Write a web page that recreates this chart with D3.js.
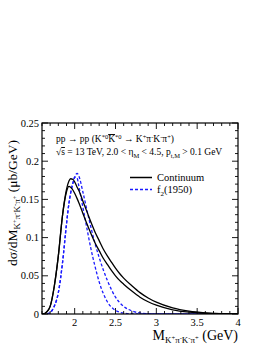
<!DOCTYPE html>
<html><head><meta charset="utf-8">
<script src="https://cdn.jsdelivr.net/npm/d3@7"></script>
<style>
html,body{margin:0;padding:0;background:#fff;}
svg{display:block;font-family:"Liberation Serif","DejaVu Serif",serif;}
</style></head>
<body>
<svg id="c" width="271" height="351"></svg>
<script>
// mass grid (GeV)
const mass = [1.60,1.62,1.65,1.70,1.75,1.80,1.85,1.90,1.93,1.95,1.98,2.00,2.03,2.05,2.10,2.15,2.20,2.25,2.30,2.35,2.40,2.45,2.50,2.55,2.60,2.70,2.80,2.90,3.00,3.20,3.40,3.60,3.80,4.00];
// Continuum (two variants), ub/GeV
const contA = [0,0,0.002,0.010,0.036,0.076,0.128,0.163,0.174,0.177,0.176,0.173,0.166,0.162,0.148,0.134,0.120,0.107,0.096,0.085,0.076,0.068,0.060,0.053,0.047,0.037,0.028,0.021,0.0155,0.0080,0.0038,0.0016,0.0006,0.0002];
const contB = [0,0,0.002,0.010,0.036,0.076,0.128,0.160,0.167,0.166,0.162,0.158,0.151,0.146,0.132,0.118,0.105,0.093,0.083,0.073,0.065,0.057,0.050,0.044,0.039,0.030,0.022,0.016,0.0115,0.0055,0.0025,0.0010,0.0004,0.0001];
// f2(1950) (two variants)
const f2C = [0,0,0,0.002,0.010,0.028,0.066,0.118,0.145,0.158,0.172,0.179,0.178,0.168,0.140,0.112,0.085,0.062,0.042,0.027,0.016,0.009,0.0048,0.0024,0.0012,0.0003,0,0,0,0,0,0,0,0];
const f2D = [0,0,0,0.002,0.010,0.028,0.066,0.118,0.145,0.158,0.172,0.179,0.184,0.181,0.160,0.136,0.113,0.092,0.074,0.058,0.044,0.032,0.022,0.015,0.010,0.004,0.0014,0.0004,0.0001,0,0,0,0,0];
const xTicks = [2,2.5,3,3.5,4];
const yTicks = [0,0.05,0.1,0.15,0.2,0.25];
const xTickLabels = ["2","2.5","3","3.5","4"];
const yTickLabels = ["0","0.05","0.1","0.15","0.2","0.25"];

const svg = d3.select("#c");
const L=42,R=238,T=123,B=314;
const x = d3.scaleLinear().domain([1.6,4]).range([L,R]);
const y = d3.scaleLinear().domain([0,0.25]).range([B,T]);

svg.append("clipPath").attr("id","pc").append("rect")
  .attr("x",L).attr("y",T-2).attr("width",R-L).attr("height",B-T+2);

const line = vals => d3.line().x((d,i)=>x(mass[i])).y(d=>y(d)).curve(d3.curveMonotoneX)(vals);
const g = svg.append("g").attr("clip-path","url(#pc)");
[[f2C,"#1a1aff","3,2"],[f2D,"#1a1aff","3,2"],[contB,"#000",null],[contA,"#000",null]].forEach(([v,c,da])=>{
  const p = g.append("path").attr("d",line(v)).attr("fill","none").attr("stroke",c).attr("stroke-width",1.3);
  if(da) p.attr("stroke-dasharray",da);
});

// frame
svg.append("rect").attr("x",L).attr("y",T).attr("width",R-L).attr("height",B-T)
  .attr("fill","none").attr("stroke","#000").attr("stroke-width",1.2);

// ticks
const tk = svg.append("g").attr("stroke","#000").attr("stroke-width",0.9);
d3.range(16,41).map(v=>v/10).forEach(v=>{
  const major = xTicks.some(t=>Math.abs(t-v)<1e-6);
  const len = major?6:3;
  tk.append("line").attr("x1",x(v)).attr("x2",x(v)).attr("y1",B).attr("y2",B-len);
  tk.append("line").attr("x1",x(v)).attr("x2",x(v)).attr("y1",T).attr("y2",T+len);
});
d3.range(0,26).map(v=>v/100).forEach(v=>{
  const major = yTicks.some(t=>Math.abs(t-v)<1e-6);
  const len = major?6:3;
  tk.append("line").attr("x1",L).attr("x2",L+len).attr("y1",y(v)).attr("y2",y(v));
  tk.append("line").attr("x1",R).attr("x2",R-len).attr("y1",y(v)).attr("y2",y(v));
});

// tick labels
svg.append("g").selectAll("text").data(yTicks).join("text")
  .attr("x",L-3).attr("y",d=>y(d)+3.5).attr("text-anchor","end")
  .attr("font-size",10.5).text((d,i)=>yTickLabels[i]);
svg.append("g").selectAll("text").data(xTicks).join("text")
  .attr("x",d=>x(d)).attr("y",B+11.5).attr("text-anchor","middle")
  .attr("font-size",10.5).text((d,i)=>xTickLabels[i]);

function rich(sel, parts){
  parts.forEach(p=>{
    const t = sel.append("tspan").text(p.t);
    if(p.fs) t.attr("font-size",p.fs);
    if(p.dy) t.attr("dy",p.dy);
    if(p.ol) t.style("text-decoration","overline");
  });
}
const subParts = (bigFs, close) => [
  {t:"K",fs:9,dy:3},{t:"+",fs:6.5,dy:-3.5},{t:"π",fs:9,dy:3.5},{t:"-",fs:6.5,dy:-3.5},
  {t:"K",fs:9,dy:3.5},{t:"-",fs:6.5,dy:-3.5},{t:"π",fs:9,dy:3.5},{t:"+",fs:6.5,dy:-3.5},
  {t:close,fs:bigFs,dy:0.5}];

// x title
const xt = svg.append("text").attr("x",R).attr("y",340).attr("text-anchor","end").attr("font-size",14);
rich(xt,[{t:"M"}].concat(subParts(14," (GeV)")));

// y title
const yt = svg.append("text").attr("transform","translate(17,203) rotate(-90)").attr("text-anchor","middle").attr("font-size",13.5);
rich(yt,[{t:"dσ/dM"}].concat(subParts(13.5," (μb/GeV)")));

// annotation lines
const a1 = svg.append("text").attr("x",56).attr("y",142).attr("font-size",9.5);
rich(a1,[{t:"pp → pp (K"},{t:"*0",fs:6.5,dy:-3.5},{t:"K",fs:9.5,dy:3.5,ol:1},{t:"*0",fs:6.5,dy:-3.5},{t:" → K",fs:9.5,dy:3.5},{t:"+",fs:6.5,dy:-3.5},{t:"π",fs:9.5,dy:3.5},{t:"-",fs:6.5,dy:-3.5},{t:"K",fs:9.5,dy:3.5},{t:"-",fs:6.5,dy:-3.5},{t:"π",fs:9.5,dy:3.5},{t:"+",fs:6.5,dy:-3.5},{t:")",fs:9.5,dy:3.5}]);
const a2 = svg.append("text").attr("x",56).attr("y",155).attr("font-size",9.5);
rich(a2,[{t:"√"},{t:"s",ol:1},{t:" = 13 TeV, 2.0 < η"},{t:"M",fs:6.5,dy:2.5},{t:" < 4.5, p",fs:9.5,dy:-2.5},{t:"t,M",fs:6.5,dy:2.5},{t:" > 0.1 GeV",fs:9.5,dy:-2.5}]);

// legend
const leg = svg.append("g");
leg.append("line").attr("x1",130).attr("x2",152).attr("y1",177.5).attr("y2",177.5).attr("stroke","#000").attr("stroke-width",1.5);
leg.append("text").attr("x",157).attr("y",181).attr("font-size",10.5).text("Continuum");
leg.append("line").attr("x1",130).attr("x2",152).attr("y1",189.5).attr("y2",189.5).attr("stroke","#1a1aff").attr("stroke-width",1.3).attr("stroke-dasharray","3,2");
const lt = leg.append("text").attr("x",157).attr("y",193).attr("font-size",10.5);
rich(lt,[{t:"f"},{t:"2",fs:7,dy:2.5},{t:"(1950)",fs:10.5,dy:-2.5}]);
</script>
</body></html>
